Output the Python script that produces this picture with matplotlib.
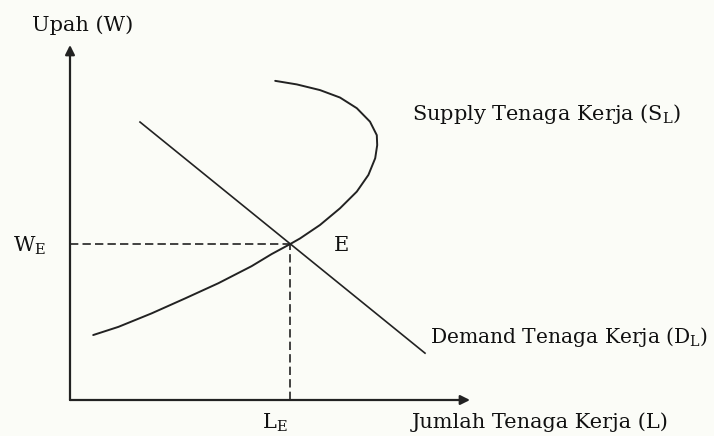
import matplotlib
matplotlib.use("Agg")
import matplotlib.pyplot as plt

# kurva penawaran tenaga kerja (backward bending)
supply_L = [5.8, 12.1, 20.4, 28.75, 37.1, 45.4, 50.4, 55.0, 57.5, 62.5, 67.5,
            71.7, 74.6, 76.3, 76.8, 76.7, 75.0, 71.7, 67.5, 62.5, 56.7, 51.3]
supply_W = [18.3, 20.6, 24.4, 28.6, 32.9, 37.7, 41.1, 43.9, 45.5, 49.3, 54.0,
            58.7, 63.4, 68.1, 71.8, 74.6, 78.4, 82.2, 85.2, 87.3, 88.9, 89.9]

# kurva permintaan (garis lurus)
demand_L = [17.5, 88.75]
demand_W = [78.3, 13.2]

# titik keseimbangan
L_E = 55.0
W_E = 44.0

plt.rcParams['font.family'] = ['DejaVu Serif']
plt.rcParams['mathtext.fontset'] = 'custom'
plt.rcParams['mathtext.rm'] = 'DejaVu Serif'
plt.rcParams['text.color'] = '#111111'

fig = plt.figure(figsize=(7.14, 4.36), dpi=100)
fig.patch.set_facecolor('#fbfcf7')
ax = fig.add_axes([70 / 714, 36 / 436, 400 / 714, 355 / 436])
ax.set_xlim(0, 100)
ax.set_ylim(0, 100)
ax.axis('off')

# sumbu dengan panah
arr = dict(arrowstyle='-|>', color='#222222', lw=1.6, mutation_scale=14,
           shrinkA=0, shrinkB=0)
ax.annotate('', xy=(0, 100), xytext=(0, 0), arrowprops=arr, annotation_clip=False)
ax.annotate('', xy=(100, 0), xytext=(0, 0), arrowprops=arr, annotation_clip=False)

ax.plot(supply_L, supply_W, color='#222222', lw=1.4, solid_capstyle='round')
ax.plot(demand_L, demand_W, color='#222222', lw=1.2)

dash = (0, (5, 2.5))
ax.plot([0, L_E], [W_E, W_E], color='#222222', lw=1.2, ls=dash)
ax.plot([L_E, L_E], [0, W_E], color='#222222', lw=1.2, ls=dash)

fs = 15
ax.text(-9.5, 105.6, 'Upah (W)', fontsize=fs, ha='left', va='center', clip_on=False)
ax.text(85.5, 80.6, r'Supply Tenaga Kerja (S$_\mathregular{L}$)', fontsize=fs,
        ha='left', va='center', clip_on=False)
ax.text(67.75, 43.4, 'E', fontsize=fs, ha='center', va='center', clip_on=False)
ax.text(-10, 43.4, r'W$_\mathregular{E}$', fontsize=fs, ha='center', va='center', clip_on=False)
ax.text(90, 17.7, r'Demand Tenaga Kerja (D$_\mathregular{L}$)', fontsize=14.6,
        ha='left', va='center', clip_on=False)
ax.text(85.5, -6.2, 'Jumlah Tenaga Kerja (L)', fontsize=fs, ha='left', va='center',
        clip_on=False)
ax.text(51.25, -6.5, r'L$_\mathregular{E}$', fontsize=fs, ha='center', va='center',
        clip_on=False)

fig.savefig('out.png', dpi=100, facecolor=fig.get_facecolor())
